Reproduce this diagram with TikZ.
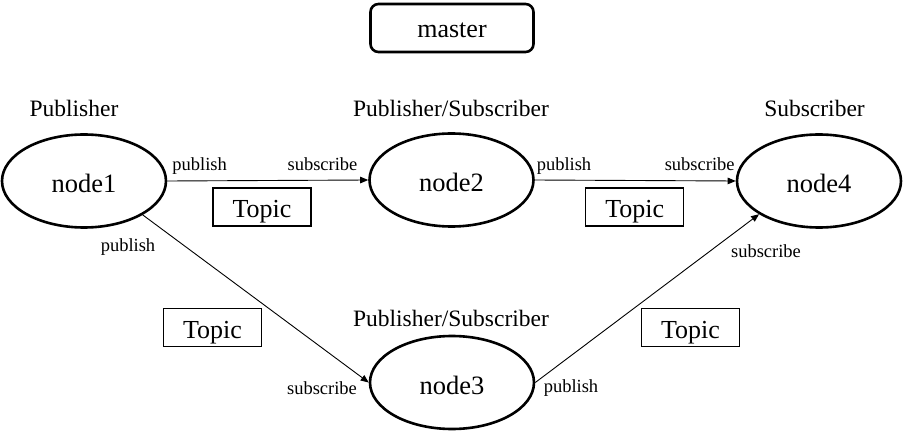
\documentclass[tikz,border=0pt]{standalone}
\usepackage{fontspec}
\setmainfont{Liberation Serif}
\usetikzlibrary{arrows.meta,shapes.geometric}
\begin{document}
\begin{tikzpicture}[x=1pt,y=-1pt,
  nodeell/.style={draw,ellipse,line width=2.6pt,minimum width=164pt,minimum height=93pt,inner sep=0pt,
    text height=23pt,text depth=0pt,font=\fontsize{26.5}{30}\selectfont},
  topicbox/.style={draw,line width=1.2pt,minimum width=98pt,minimum height=38pt,inner sep=0pt,
    text height=21pt,text depth=0pt,font=\fontsize{26}{30}\selectfont},
  masterbox/.style={draw,line width=2.6pt,rounded corners=8pt,minimum width=163pt,minimum height=48pt,inner sep=0pt,
    text height=20pt,text depth=0pt,font=\fontsize{26}{30}\selectfont},
  rolelbl/.style={anchor=base,inner sep=0pt,font=\fontsize{23.5}{28}\selectfont},
  smalllbl/.style={inner sep=0pt,font=\fontsize{18.5}{22}\selectfont},
  conn/.style={line width=0.9pt,-{Triangle[length=8pt,width=6.5pt]}}
]
\path[use as bounding box] (0,0) rectangle (903,433);

\node[masterbox] (master) at (452,28) {master};

\node[rolelbl] (r1) at (74,117) {Publisher};
\node[rolelbl] (r2) at (451,117) {Publisher/Subscriber};
\node[rolelbl] (r4) at (814.5,117) {Subscriber};
\node[rolelbl] (r3) at (451,326.7) {Publisher/Subscriber};

\node[nodeell] (n1) at (84,181) {node1};
\node[nodeell] (n2) at (451.5,180) {node2};
\node[nodeell] (n4) at (819,181) {node4};
\node[nodeell] (n3) at (452,382.5) {node3};

\node[topicbox] (t1) at (262,207) {Topic};
\node[topicbox] (t2) at (634.7,207) {Topic};
\node[topicbox] (t3) at (212.5,327.8) {Topic};
\node[topicbox] (t4) at (690.5,327.8) {Topic};

\draw[conn] (n1.east) -- (n2.west);
\draw[conn] (n2.east) -- (n4.west);
\draw[conn] (n1.-30) -- (n3.west);
\draw[conn] (n3.east) -- (n4.-151);

\node[smalllbl] (p1) at (199.7,166) {publish};
\node[smalllbl] (s1) at (322.5,164) {subscribe};
\node[smalllbl] (p2) at (564,166) {publish};
\node[smalllbl] (s2) at (699.7,164) {subscribe};
\node[smalllbl] (p3) at (128,247) {publish};
\node[smalllbl] (s3) at (322,388) {subscribe};
\node[smalllbl] (p4) at (571,388) {publish};
\node[smalllbl] (s4) at (766,251) {subscribe};
\end{tikzpicture}
\end{document}
